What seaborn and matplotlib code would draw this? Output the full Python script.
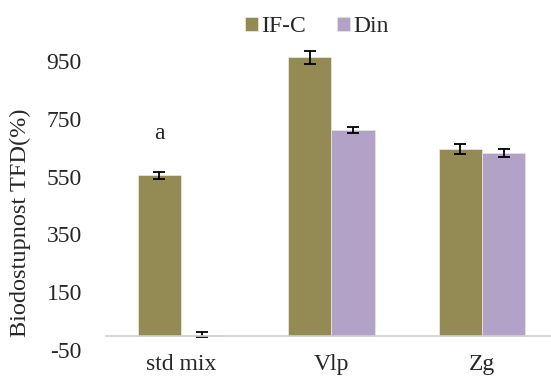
import pandas as pd
import matplotlib
matplotlib.use('Agg')
import matplotlib.pyplot as plt
import seaborn as sns

kategorije = ['std mix', 'Vlp', 'Zg']
serije = ['IF-C', 'Din']
ifc = [555, 962, 645]
din = [3, 711, 631]
ifc_err = [12, 23, 16]
din_err = [8, 10, 14]
yticks = [-50, 150, 350, 550, 750, 950]

df = pd.DataFrame({
    'kategorija': kategorije * 2,
    'serija': ['IF-C'] * 3 + ['Din'] * 3,
    'vrednost': ifc + din,
})
napake = {'IF-C': ifc_err, 'Din': din_err}

sns.set_style('white')
plt.rcParams['font.family'] = ['Liberation Serif', 'DejaVu Serif']
plt.rcParams['axes.unicode_minus'] = False

fs = 17

fig = plt.figure(figsize=(5.51, 3.76), dpi=100)
ax = fig.add_axes([0.1915, 0.069, 0.82, 0.846])

sns.barplot(data=df, x='kategorija', y='vrednost', hue='serija', hue_order=serije,
            palette=['#948A54', '#B3A2C7'], saturation=1, width=0.574, gap=0, ax=ax,
            edgecolor='#E8E4D8', linewidth=0.6, errorbar=None)

# error bars on bar centers
for cont, s in zip(ax.containers, serije):
    xs = [b.get_x() + b.get_width() / 2 for b in cont]
    hs = [b.get_height() for b in cont]
    ax.errorbar(xs, hs, yerr=napake[s], fmt='none', ecolor='black',
                elinewidth=1.3, capsize=4.5, capthick=1.3)

ax.set_ylim(-50, 1050)
ax.set_xlim(-0.5, 2.5)
ax.set_yticks(yticks)
ax.tick_params(axis='y', length=0, labelsize=fs, pad=17)

ax.spines['left'].set_visible(False)
ax.spines['right'].set_visible(False)
ax.spines['top'].set_visible(False)
ax.spines['bottom'].set_position(('data', 0))
ax.spines['bottom'].set_color('#D0D0D0')
ax.spines['bottom'].set_linewidth(1.2)

ax.set_xticks([0, 1, 2])
ax.set_xticklabels(kategorije)
ax.set_xticks([-0.5, 0.5, 1.5, 2.5], minor=True)
ax.tick_params(axis='x', which='major', length=0, labelsize=fs, pad=13)
ax.tick_params(axis='x', which='minor', length=5, width=1.2, color='#D0D0D0', direction='out')

ax.set_xlabel('')
ax.set_ylabel('Biodostupnost TFD(%)', fontsize=17.5)
ax.yaxis.set_label_coords(-0.165, 0.40)

ax.text(-0.143, 700, 'a', fontsize=fs, ha='center', va='center')

handles, labels = ax.get_legend_handles_labels()
ax.get_legend().remove()
fig.legend(handles, labels, loc='center', bbox_to_anchor=(317 / 551, 1 - 27 / 376), ncol=2,
           frameon=False, fontsize=fs, handlelength=0.55, handleheight=0.55,
           handletextpad=0.15, columnspacing=1.3)

fig.savefig('out.png', dpi=100)
